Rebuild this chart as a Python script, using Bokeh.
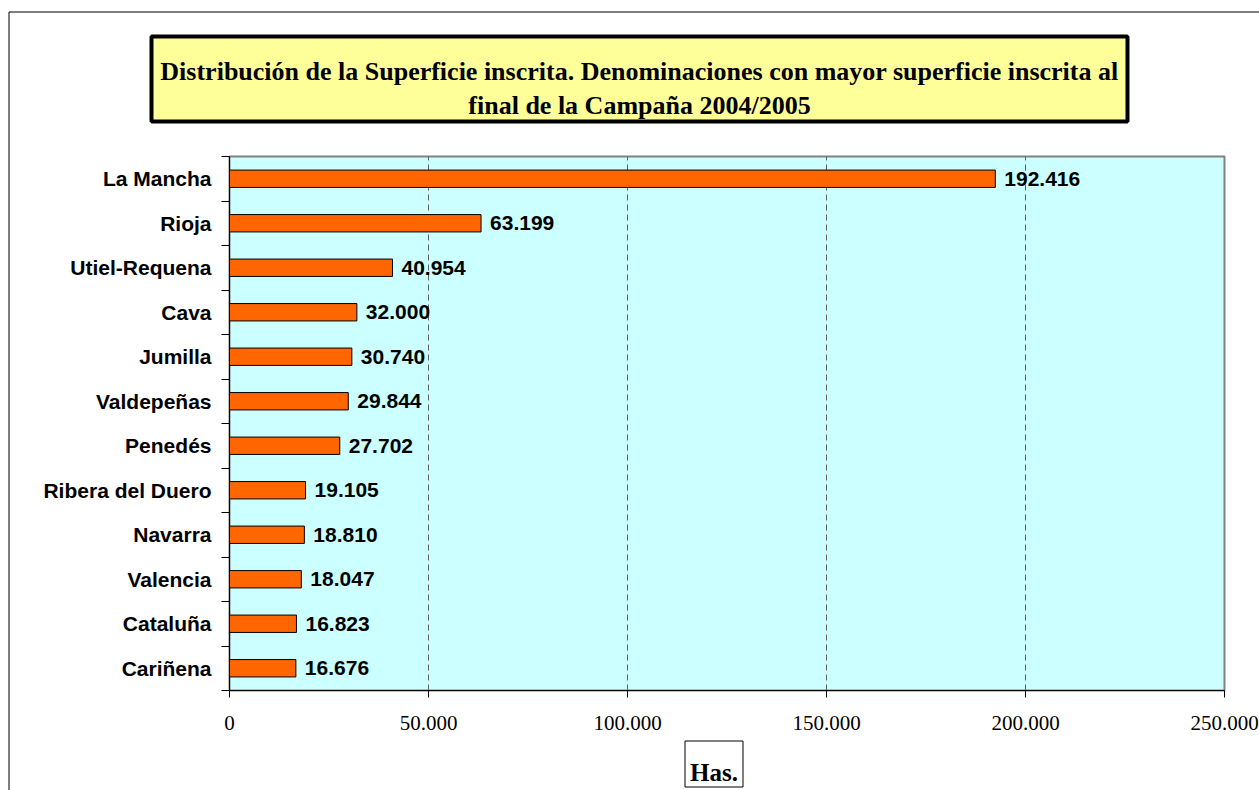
from bokeh.plotting import figure
from bokeh.models import (ColumnDataSource, FixedTicker, BoxAnnotation, Label,
                          CustomJSTickFormatter, Range1d)
from bokeh.core.properties import value
from bokeh.embed import file_html
from bokeh.resources import INLINE

# ---- data (top to bottom as in the chart) ----
categories = ["La Mancha", "Rioja", "Utiel-Requena", "Cava", "Jumilla", "Valdepeñas",
              "Penedés", "Ribera del Duero", "Navarra", "Valencia", "Cataluña", "Cariñena"]
superficie = [192416, 63199, 40954, 32000, 30740, 29844,
              27702, 19105, 18810, 18047, 16823, 16676]
x_ticks = [0, 50000, 100000, 150000, 200000, 250000]
title_line1 = "Distribución de la Superficie inscrita. Denominaciones con mayor superficie inscrita al"
title_line2 = "final de la Campaña 2004/2005"
x_title = "Has."

n = len(categories)
ypos = [n - 1 - i for i in range(n)]  # La Mancha on top
XMIN, XMAX = x_ticks[0], x_ticks[-1]
YMIN, YMAX = -0.5, n - 0.5


def fmt(v):
    return f"{v:,}".replace(",", ".")


src = ColumnDataSource(dict(cat=categories, val=superficie, y=ypos,
                            lab=[fmt(v) for v in superficie]))

# ---- layout (pixels) ----
W, H = 1259, 790
PL, PR, PT, PB = 229, 1224, 156, 690   # plot-area edges on the canvas

kx = (XMAX - XMIN) / (PR - PL)
ky = (YMAX - YMIN) / (PB - PT)
x_range = Range1d(XMIN - PL * kx, XMAX + (W - PR) * kx)
y_range = Range1d(YMIN - (H - PB) * ky, YMAX + PT * ky)

p = figure(width=W, height=H, output_backend="svg", toolbar_location=None,
           x_range=x_range, y_range=y_range,
           min_border_left=0, min_border_right=0, min_border_top=0, min_border_bottom=0)
p.background_fill_color = "white"
p.border_fill_color = "white"
p.outline_line_color = None
p.xgrid.visible = False
p.ygrid.visible = False

# plot area
p.add_layout(BoxAnnotation(left=XMIN, right=XMAX, bottom=YMIN, top=YMAX,
                           fill_color="#CCFFFF", fill_alpha=1,
                           line_color="#808080", line_alpha=1, line_width=2,
                           level="underlay"))

# dashed vertical gridlines at the inner ticks
gx = x_ticks[1:-1]
p.segment(x0=gx, x1=gx, y0=[YMIN] * len(gx), y1=[YMAX] * len(gx),
          line_color="#606060", line_dash="6 4", line_width=1)

p.hbar(y="y", right="val", left=0, height=0.39, source=src,
       fill_color="#FF6600", line_color="black", line_width=1)
p.text(x="val", y="y", text="lab", source=src, x_offset=9,
       text_baseline="middle", text_align="left",
       text_font=value("Liberation Sans"), text_font_style="bold",
       text_font_size="21px", text_color="black")

# x axis
xa = p.xaxis[0]
xa.fixed_location = YMIN
xa.bounds = (XMIN, XMAX)
xa.ticker = FixedTicker(ticks=x_ticks)
xa.formatter = CustomJSTickFormatter(
    code="return tick.toFixed(0).replace(/\\B(?=(\\d{3})+(?!\\d))/g, '.');")
xa.major_label_text_font = "Liberation Serif"
xa.major_label_text_font_size = "21px"
xa.major_label_text_color = "black"
xa.major_tick_out = 7
xa.major_tick_in = 0
xa.minor_tick_out = 0
xa.major_label_standoff = 18
xa.axis_line_color = "black"
xa.major_tick_line_color = "black"

# y axis
ya = p.yaxis[0]
ya.fixed_location = XMIN
ya.bounds = (YMIN, YMAX)
ya.ticker = FixedTicker(ticks=ypos, minor_ticks=[i - 0.5 for i in range(n + 1)])
ya.major_label_overrides = {y: c for y, c in zip(ypos, categories)}
ya.major_label_text_font = "Liberation Sans"
ya.major_label_text_font_style = "bold"
ya.major_label_text_font_size = "21px"
ya.major_label_text_color = "black"
ya.major_tick_out = 0
ya.major_tick_in = 0
ya.minor_tick_out = 8
ya.minor_tick_in = 0
ya.minor_tick_line_color = "black"
ya.major_label_standoff = 10
ya.axis_line_color = "black"

# outer chart-area border (extends past the window on right/bottom)
p.add_layout(BoxAnnotation(left=8.5, right=W + 40, top=11.5, bottom=H + 40,
                           left_units="canvas", right_units="canvas",
                           top_units="canvas", bottom_units="canvas",
                           fill_alpha=0, line_color="black", line_alpha=1, line_width=1))

# title box
p.add_layout(BoxAnnotation(left=151, right=1127, top=36, bottom=121,
                           left_units="canvas", right_units="canvas",
                           top_units="canvas", bottom_units="canvas",
                           fill_color="#FFFF99", fill_alpha=1,
                           line_color="black", line_alpha=1, line_width=4))
for txt, yy in [(title_line1, 71), (title_line2, 105)]:
    p.add_layout(Label(x=639, y=yy, x_units="canvas", y_units="canvas", text=txt,
                       text_align="center", text_baseline="alphabetic",
                       text_font="Liberation Serif", text_font_style="bold",
                       text_font_size="26px", text_color="black"))

# axis title box "Has."
p.add_layout(BoxAnnotation(left=684.5, right=742.5, top=740.5, bottom=786.5,
                           left_units="canvas", right_units="canvas",
                           top_units="canvas", bottom_units="canvas",
                           fill_color="white", fill_alpha=1,
                           line_color="black", line_alpha=1, line_width=1))
p.add_layout(Label(x=713.5, y=772, x_units="canvas", y_units="canvas", text=x_title,
                   text_align="center", text_baseline="alphabetic",
                   text_font="Liberation Serif", text_font_style="bold",
                   text_font_size="25px", text_color="black"))

open("out.html", "w").write(file_html(p, INLINE))
